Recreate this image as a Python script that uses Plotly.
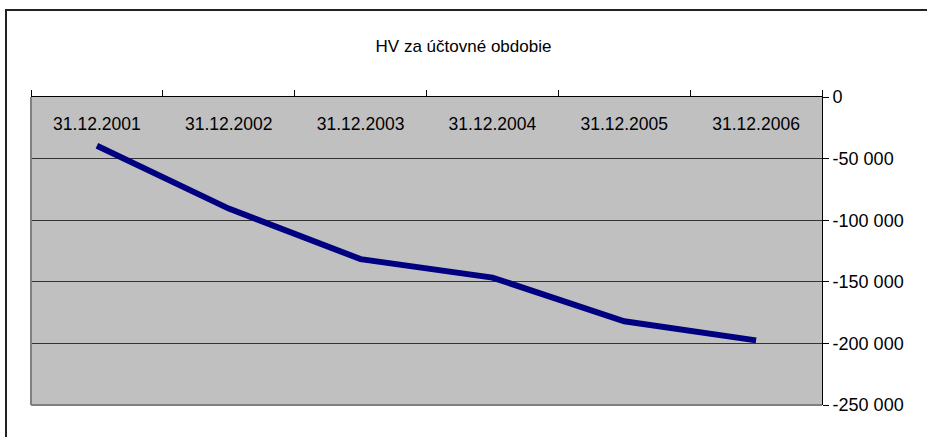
import plotly.graph_objects as go

categories = ["31.12.2001", "31.12.2002", "31.12.2003", "31.12.2004", "31.12.2005", "31.12.2006"]
hv_values = [-39500, -90500, -131500, -146500, -182000, -197500]
y_tick_vals = [0, -50000, -100000, -150000, -200000, -250000]
y_tick_text = ["0", "-50 000", "-100 000", "-150 000", "-200 000", "-250 000"]

W, H = 927, 437
L, R, T, B = 31, 105, 97, 32
pw, ph = W - L - R, H - T - B
y_range = [-250000, 150]

fig = go.Figure()
fig.add_trace(go.Scatter(
    x=categories, y=hv_values, mode="lines",
    line=dict(color="#000080", width=6),
    hoverinfo="x+y", showlegend=False, cliponaxis=False,
    xaxis="x", yaxis="y",
))
# invisible copy so the label axes know the categories / range
fig.add_trace(go.Scatter(
    x=categories, y=hv_values, mode="lines",
    line=dict(color="rgba(0,0,0,0)", width=0),
    hoverinfo="skip", showlegend=False,
    xaxis="x2", yaxis="y2",
))

font_family = "Liberation Sans, Arial, sans-serif"

fig.update_layout(
    width=W, height=H,
    margin=dict(l=L, r=R, t=T, b=B, autoexpand=False),
    paper_bgcolor="white",
    plot_bgcolor="#C0C0C0",
    font=dict(family=font_family, color="black", size=17),
    title=dict(text="HV za účtovné obdobie", x=0.5, xanchor="center",
               y=1 - 46 / H, yanchor="middle", font=dict(size=17, color="black")),
    xaxis=dict(
        type="category", side="top", tickson="boundaries",
        ticks="outside", ticklen=6, tickcolor="black", tickwidth=1,
        showline=True, linecolor="black", linewidth=1,
        showticklabels=False,
        showgrid=False, zeroline=False, automargin=False,
        range=[-0.5, 5.5], fixedrange=True,
    ),
    # category labels, drawn just below the top edge inside the plot area
    xaxis2=dict(
        type="category", side="top", overlaying="x", anchor="free", position=0.88,
        ticks="", showline=False, showgrid=False, zeroline=False,
        automargin=False, range=[-0.5, 5.5], fixedrange=True,
        tickfont=dict(size=17.5),
    ),
    yaxis=dict(
        side="right", range=y_range,
        tickvals=y_tick_vals, showticklabels=False, ticks="",
        showline=True, linecolor="black", linewidth=1,
        showgrid=True, gridcolor="#333333", gridwidth=1,
        zeroline=False, fixedrange=True, automargin=False,
    ),
    yaxis2=dict(
        side="right", overlaying="y", anchor="free", position=1,
        range=y_range, tickvals=y_tick_vals, ticktext=y_tick_text,
        ticks="outside", ticklen=6, tickcolor="black", tickwidth=1,
        showline=False, showgrid=False, zeroline=False,
        ticklabeloverflow="allow",
        fixedrange=True, automargin=False,
        tickfont=dict(size=18),
    ),
    shapes=[
        # outer chart border
        dict(type="rect", xref="paper", yref="paper",
             x0=(6 - L) / pw, x1=1 + (W + 10 - L - pw) / pw,
             y0=-(B + 10) / ph, y1=1 + (T - 10) / ph,
             line=dict(color="#222222", width=2), fillcolor="rgba(0,0,0,0)", layer="above"),
        # plot area left and bottom edges
        dict(type="line", xref="paper", yref="paper", x0=0, x1=0, y0=0, y1=1,
             line=dict(color="#808080", width=2), layer="above"),
        dict(type="line", xref="paper", yref="paper", x0=0, x1=1, y0=0, y1=0,
             line=dict(color="#808080", width=2), layer="above"),
    ],
)

fig.write_html(
    "out.html",
    config={"displayModeBar": False},
    post_script="document.body.style.margin='0';document.body.style.overflow='hidden';",
)
